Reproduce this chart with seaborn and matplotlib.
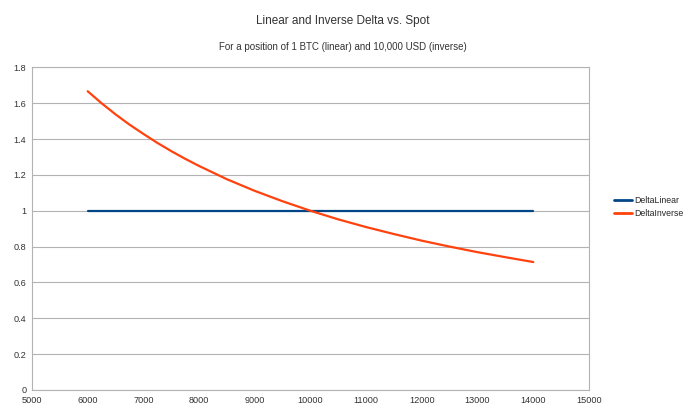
import pandas as pd
import seaborn as sns
import matplotlib.pyplot as plt

# Data
spot = [6000, 6250, 6500, 6750, 7000, 7250, 7500, 7750, 8000, 8500, 9000, 9500, 10000,
        10500, 11000, 11500, 12000, 12500, 13000, 13500, 14000]
delta_linear = [1.0] * len(spot)
delta_inverse = [1.667, 1.6, 1.538, 1.481, 1.429, 1.379, 1.333, 1.290, 1.25, 1.176,
                 1.111, 1.053, 1.0, 0.952, 0.909, 0.870, 0.833, 0.800, 0.769, 0.741, 0.714]

x_ticks = list(range(5000, 15001, 1000))
y_ticks = [0, 0.2, 0.4, 0.6, 0.8, 1, 1.2, 1.4, 1.6, 1.8]
y_labels = ['0', '0.2', '0.4', '0.6', '0.8', '1', '1.2', '1.4', '1.6', '1.8']

df = pd.DataFrame({'Spot': spot, 'DeltaLinear': delta_linear, 'DeltaInverse': delta_inverse})
dflong = pd.melt(df, id_vars='Spot', var_name='series', value_name='delta')

sns.set_style('white')
plt.rcParams['font.family'] = ['Liberation Sans', 'DejaVu Sans']

fig = plt.figure(figsize=(6.86, 4.12), dpi=100)
ax = fig.add_axes([0.0466, 0.0534, 0.812, 0.783])

sns.lineplot(data=dflong, x='Spot', y='delta', hue='series',
             palette={'DeltaLinear': '#004586', 'DeltaInverse': '#ff420e'},
             linewidth=1.6, ax=ax)

ax.set_xlim(5000, 15000)
ax.set_ylim(0, 1.8)
ax.set_xticks(x_ticks)
ax.set_yticks(y_ticks)
ax.set_yticklabels(y_labels)
ax.set_xlabel('')
ax.set_ylabel('')
ax.tick_params(axis='both', labelsize=6.6, colors='#b3b3b3', length=3, width=0.8,
               direction='out', pad=1, labelcolor='#333333')
ax.yaxis.grid(True, color='#b3b3b3', linewidth=0.8)
for side in ['left', 'bottom', 'right', 'top']:
    ax.spines[side].set_color('#b3b3b3')
    ax.spines[side].set_linewidth(0.8)
ax.set_axisbelow(True)

leg = ax.legend(loc='center left', bbox_to_anchor=(1.045, 0.567), frameon=False,
                fontsize=6.3, handlelength=2.1, handletextpad=0.15, labelspacing=0.55,
                borderpad=0, borderaxespad=0)
for h in leg.get_lines():
    h.set_linewidth(2)

fig.text(0.5, 0.948, 'Linear and Inverse Delta vs. Spot', ha='center', va='center',
         fontsize=8.5, color='#333333')
fig.text(0.5, 0.886, 'For a position of 1 BTC (linear) and 10,000 USD (inverse)',
         ha='center', va='center', fontsize=7, color='#333333')

fig.savefig('out.png', dpi=100)
